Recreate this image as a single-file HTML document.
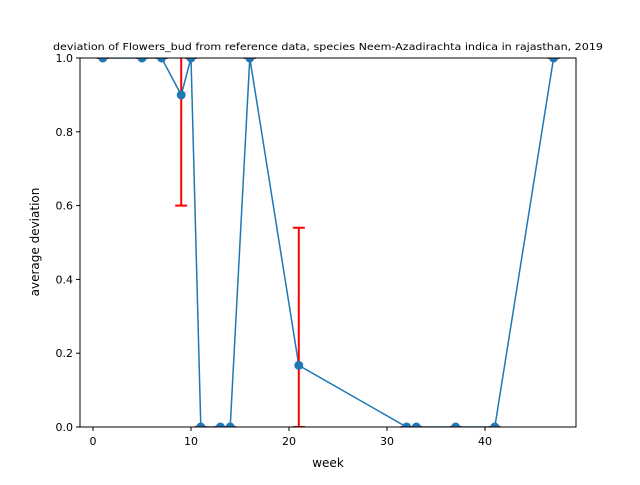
<!DOCTYPE html>
<html><head><style>body{margin:0;background:#fff}svg{font-family:"DejaVu Sans","Liberation Sans",sans-serif}</style></head>
<body>
<svg width="640" height="480" xmlns="http://www.w3.org/2000/svg">
<defs><clipPath id="c"><rect x="80" y="58" width="496" height="369"/></clipPath></defs>
<rect width="640" height="480" fill="#fff"/>
<text x="328" y="50" font-size="10" text-anchor="middle" textLength="550" lengthAdjust="spacingAndGlyphs">deviation of Flowers_bud from reference data, species Neem-Azadirachta indica in rajasthan, 2019</text>
<g id="marks" clip-path="url(#c)"></g>
<rect x="80" y="58" width="496" height="369" fill="none" stroke="#000" stroke-width="1"/>
<g id="axes"></g>
<text x="328" y="467" font-size="12" text-anchor="middle">week</text>
<text transform="translate(39,242) rotate(-90)" font-size="12" text-anchor="middle">average deviation</text>
</svg>
<script>
const weeks=[1,5,7,9,10,11,13,14,16,21,32,33,37,41,47];
const values=[1,1,1,0.9,1,0,0,0,1,0.167,0,0,0,0,1];
const errLow=[0,0,0,0.3,0,0,0,0,0,0.167,0,0,0,0,0];
const errHigh=[0,0,0,0.3,0,0,0,0,0,0.373,0,0,0,0,0];
const xTicks=[0,10,20,30,40];
const yTicks=[0,0.2,0.4,0.6,0.8,1.0];
const NS="http://www.w3.org/2000/svg";
const X=v=>93+v*9.8, Y=v=>427-v*369;
function mk(t,a,p){const e=document.createElementNS(NS,t);for(const k in a)e.setAttribute(k,a[k]);p.appendChild(e);return e;}
const m=document.getElementById('marks'), ax=document.getElementById('axes');
const pl=mk('polyline',{points:weeks.map((w,i)=>X(w)+','+Y(values[i])).join(' '),fill:'none',stroke:'#1f77b4','stroke-width':1.5},m);


weeks.forEach((w,i)=>{
  const lo=values[i]-errLow[i], hi=values[i]+errHigh[i];
  const g=mk('g',{},m);
  
  
  mk('line',{x1:X(w),x2:X(w),y1:Y(lo),y2:Y(hi),stroke:'red','stroke-width':2},g);
  mk('line',{x1:X(w)-6,x2:X(w)+6,y1:Y(lo),y2:Y(lo),stroke:'red','stroke-width':2},g);
  mk('line',{x1:X(w)-6,x2:X(w)+6,y1:Y(hi),y2:Y(hi),stroke:'red','stroke-width':2},g);
});
weeks.forEach((w,i)=>{
  const c=mk('circle',{cx:X(w),cy:Y(values[i]),r:4.5,fill:'#1f77b4'},m);
  
  
});
xTicks.forEach(t=>{
  mk('line',{x1:X(t),x2:X(t),y1:427,y2:431,stroke:'#000'},ax);
  const tx=mk('text',{x:X(t),y:445,'font-size':11,'text-anchor':'middle'},ax);tx.textContent=t;
  
  
});
yTicks.forEach(t=>{
  mk('line',{x1:76,x2:80,y1:Y(t),y2:Y(t),stroke:'#000'},ax);
  const tx=mk('text',{x:73,y:Y(t)+4,'font-size':11,'text-anchor':'end'},ax);tx.textContent=t.toFixed(1);
  
  
});
</script>
</body></html>
